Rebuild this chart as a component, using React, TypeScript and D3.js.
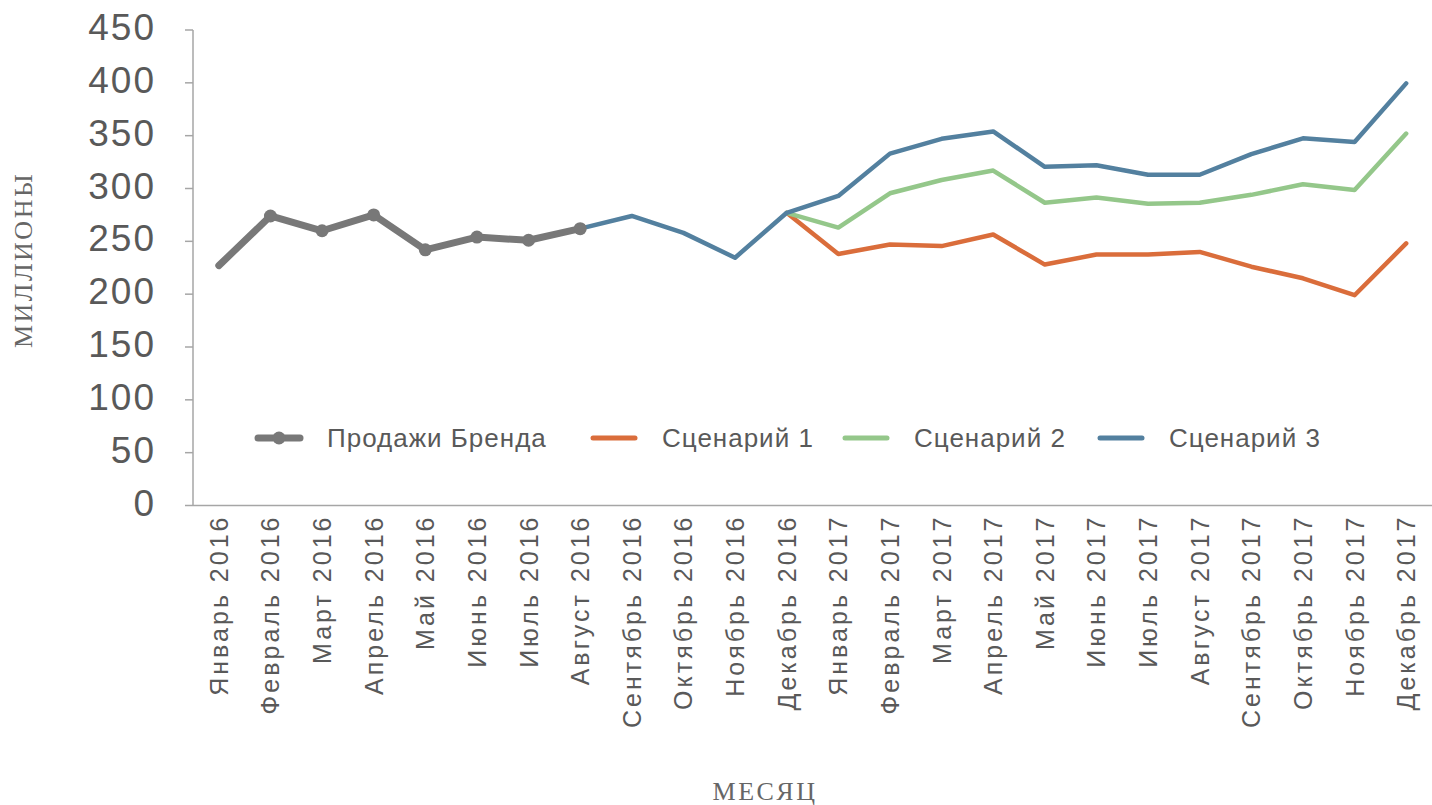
import React from 'react';
import * as d3 from 'd3';

const months = [
  'Январь 2016', 'Февраль 2016', 'Март 2016', 'Апрель 2016', 'Май 2016', 'Июнь 2016',
  'Июль 2016', 'Август 2016', 'Сентябрь 2016', 'Октябрь 2016', 'Ноябрь 2016', 'Декабрь 2016',
  'Январь 2017', 'Февраль 2017', 'Март 2017', 'Апрель 2017', 'Май 2017', 'Июнь 2017',
  'Июль 2017', 'Август 2017', 'Сентябрь 2017', 'Октябрь 2017', 'Ноябрь 2017', 'Декабрь 2017',
];

// Продажи Бренда: январь–август 2016
const brandSales = [227, 274, 260, 275, 242, 254, 251, 262];
// Сценарий 3: с августа 2016
const scenario3 = [262, 274, 258, 234.5, 277, 293, 333, 347, 354, 320.5, 322, 313, 313, 332.5, 347.5, 344, 399.5];
// Сценарии 1 и 2: с декабря 2016
const scenario2 = [277, 263, 295.5, 308, 317, 286.5, 291.5, 285.5, 286.5, 294, 304, 298.5, 352];
const scenario1 = [277, 238, 247, 245.5, 256.5, 228, 237.5, 237.5, 240, 226, 215, 199, 248];

const yTicks = [0, 50, 100, 150, 200, 250, 300, 350, 400, 450];

const legendItems = [
  { label: 'Продажи Бренда', color: '#787878', x: 258, marker: true },
  { label: 'Сценарий 1', color: '#DA6D3B', x: 593, marker: false },
  { label: 'Сценарий 2', color: '#94C78A', x: 845, marker: false },
  { label: 'Сценарий 3', color: '#53809F', x: 1100, marker: false },
];

const W = 1432;
const H = 805;
const left = 193;
const right = 1432;
const top = 30;
const bottom = 505.5;

const pad = (vals: number[], start: number) =>
  months.map((_, i) => (i >= start && i < start + vals.length ? vals[i - start] : null));

const App = () => {
  const x = d3.scaleBand<string>().domain(months).range([left, right]).padding(0);
  const y = d3.scaleLinear().domain([0, 450]).range([bottom, top]);
  const cx = (i: number) => (x(months[i]) as number) + x.bandwidth() / 2;

  const line = d3.line<number | null>()
    .defined(d => d !== null)
    .x((_, i) => cx(i))
    .y(d => y(d as number));

  const series = [
    { data: pad(scenario1, 11), color: '#DA6D3B', width: 4.5 },
    { data: pad(scenario2, 11), color: '#94C78A', width: 4.5 },
    { data: pad(scenario3, 7), color: '#53809F', width: 4.5 },
  ];
  const brand = pad(brandSales, 0);

  return (
    <svg width={W} height={H} style={{ position: 'absolute', left: 0, top: 0, background: '#fff' }}>
      {/* axes */}
      <line x1={left} x2={left} y1={top} y2={bottom} stroke="#A6A6A6" strokeWidth={1.5} />
      <line x1={left} x2={right} y1={bottom} y2={bottom} stroke="#A6A6A6" strokeWidth={1.5} />
      {yTicks.map(t => (
        <g key={t}>
          <line x1={left - 8} x2={left} y1={y(t)} y2={y(t)} stroke="#A6A6A6" strokeWidth={1.5} />
          <text x={156} y={y(t) + 10} textAnchor="end" fontFamily="Liberation Sans, Arial" fontSize={37}
            letterSpacing={2} fill="#595959">{t}</text>
        </g>
      ))}
      {months.map((m, i) => (
        <text key={m} transform={`translate(${cx(i) + 9},${bottom + 9}) rotate(-90)`} textAnchor="end"
          fontFamily="Liberation Sans, Arial" fontSize={25} letterSpacing={3} fill="#595959">{m}</text>
      ))}

      {/* lines */}
      {series.map((s, k) => (
        <path key={k} d={line(s.data) || ''} fill="none" stroke={s.color} strokeWidth={s.width}
          strokeLinejoin="round" strokeLinecap="round" />
      ))}
      <path d={line(brand) || ''} fill="none" stroke="#787878" strokeWidth={7}
        strokeLinejoin="round" strokeLinecap="round" />
      {brand.map((d, i) => (d !== null && i > 0 ? (
        <circle key={i} cx={cx(i)} cy={y(d)} r={6.5} fill="#787878" />
      ) : null))}

      {/* legend */}
      {legendItems.map(l => (
        <g key={l.label}>
          <line x1={l.x} x2={l.x + 42} y1={438} y2={438} stroke={l.color}
            strokeWidth={l.marker ? 7 : 5} strokeLinecap="round" />
          {l.marker && <circle cx={l.x + 21} cy={438} r={6.5} fill={l.color} />}
          <text x={l.x + 69} y={447} fontFamily="Liberation Sans, Arial" fontSize={26}
            letterSpacing={1} fill="#595959">{l.label}</text>
        </g>
      ))}

      {/* axis titles */}
      <text transform="translate(32,260) rotate(-90)" textAnchor="middle" fontFamily="Liberation Serif, DejaVu Serif"
        fontSize={26} letterSpacing={2.5} fill="#666">МИЛЛИОНЫ</text>
      <text x={765} y={800} textAnchor="middle" fontFamily="Liberation Serif, DejaVu Serif"
        fontSize={26} letterSpacing={2.5} fill="#666">МЕСЯЦ</text>
    </svg>
  );
};

export default App;
